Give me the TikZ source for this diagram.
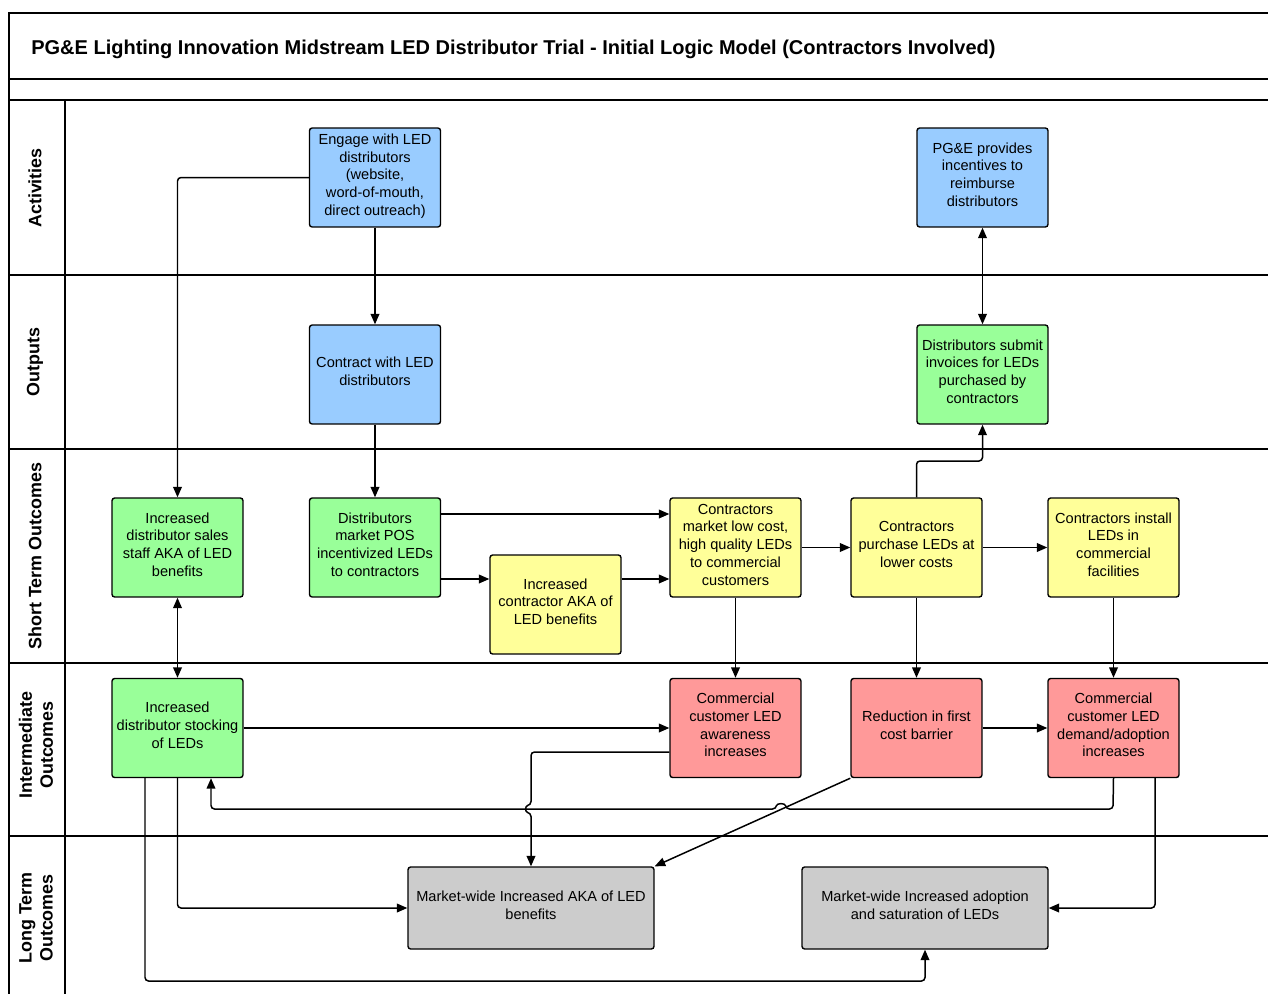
\documentclass[tikz,border=0pt]{standalone}
\usepackage{fontspec}
\setmainfont{Liberation Sans}
\usetikzlibrary{arrows.meta}

\definecolor{actblue}{HTML}{99CCFF}
\definecolor{outgreen}{HTML}{99FF99}
\definecolor{styellow}{HTML}{FFFF99}
\definecolor{midred}{HTML}{FF9999}
\definecolor{ltgray}{HTML}{CCCCCC}

\tikzset{
  box/.style={draw, line width=0.8pt, rounded corners=1.5pt, minimum width=2.62cm,
    minimum height=1.98cm, align=center, inner sep=1pt, text depth=3.4pt,
    font=\fontsize{8.3}{10.1}\selectfont},
  widebox/.style={box, fill=ltgray, minimum width=4.92cm, minimum height=1.64cm},
  conn/.style={line width=0.85pt, rounded corners=2pt, -{Triangle[length=6pt,width=5pt]}},
  dconn/.style={conn, {Triangle[length=6pt,width=5pt]}-{Triangle[length=6pt,width=5pt]}},
  lane/.style={rotate=90, align=center, font=\bfseries\fontsize{10.2}{11.9}\selectfont},
  frame/.style={line width=0.8pt}
}

\begin{document}
\begin{tikzpicture}[x=0.02cm, y=-0.02cm]
  \useasboundingbox (0,0) rectangle (1268,994);

  % swimlane frame
  \draw[frame] (1268,13) -- (9,13) -- (9,994);
  \draw[frame] (9,79) -- (1268,79);
  \draw[line width=1.2pt] (9,100) -- (1268,100);
  \draw[frame] (9,275) -- (1268,275);
  \draw[frame] (9,449) -- (1268,449);
  \draw[frame] (9,663) -- (1268,663);
  \draw[frame] (9,836) -- (1268,836);
  \draw[frame] (65,100) -- (65,994);

  \node[anchor=west, inner sep=0pt, font=\bfseries\fontsize{11.38}{13}\selectfont] (title) at (31,49.5)
    {PG\&E Lighting Innovation Midstream LED Distributor Trial - Initial Logic Model (Contractors Involved)};

  \node[lane] (lact) at (35,188) {Activities};
  \node[lane] (lout) at (35,362) {Outputs};
  \node[lane] (lshort) at (35,556) {Short Term Outcomes};
  \node[lane] (linter) at (36,745) {Intermediate\\Outcomes};
  \node[lane] (llong) at (36,918) {Long Term\\Outcomes};

  % activities
  \node[box, fill=actblue] (engage) at (375,177.5)
    {Engage with LED\\distributors\\(website,\\word-of-mouth,\\direct outreach)};
  \node[box, fill=actblue] (incent) at (982.5,177.5)
    {PG\&E provides\\incentives to\\reimburse\\distributors};

  % outputs
  \node[box, fill=actblue] (contract) at (375,374.5) {Contract with LED\\distributors};
  \node[box, fill=outgreen] (invoices) at (982.5,374.5)
    {Distributors submit\\invoices for LEDs\\purchased by\\contractors};

  % short term
  \node[box, fill=outgreen] (salesaka) at (177.5,547.5)
    {Increased\\distributor sales\\staff AKA of LED\\benefits};
  \node[box, fill=outgreen] (marketpos) at (375,547.5)
    {Distributors\\market POS\\incentivized LEDs\\to contractors};
  \node[box, fill=styellow] (contraka) at (555.5,604.5)
    {Increased\\contractor AKA of\\LED benefits};
  \node[box, fill=styellow] (marketled) at (735.5,547.5)
    {Contractors\\market low cost,\\high quality LEDs\\to commercial\\customers};
  \node[box, fill=styellow] (purchase) at (916.5,547.5)
    {Contractors\\purchase LEDs at\\lower costs};
  \node[box, fill=styellow] (install) at (1113.5,547.5)
    {Contractors install\\LEDs in\\commercial\\facilities};

  % intermediate
  \node[box, fill=outgreen] (stocking) at (177.5,728)
    {Increased\\distributor stocking\\of LEDs};
  \node[box, fill=midred] (awareness) at (735.5,728)
    {Commercial\\customer LED\\awareness\\increases};
  \node[box, fill=midred] (costbarrier) at (916.5,728)
    {Reduction in first\\cost barrier};
  \node[box, fill=midred] (demand) at (1113.5,728)
    {Commercial\\customer LED\\demand/adoption\\increases};

  % long term
  \node[widebox] (mwaka) at (531,908) {Market-wide Increased AKA of LED\\benefits};
  \node[widebox] (mwadopt) at (925,908) {Market-wide Increased adoption\\and saturation of LEDs};

  % connectors
  \draw[conn] (engage.west) -| (salesaka.north);
  \draw[conn] (engage) -- (contract);
  \draw[dconn] (incent) -- (invoices);
  \draw[conn] (contract) -- (marketpos);
  \draw[conn] (marketpos.east |- 0,514) -- (marketled.west |- 0,514);
  \draw[conn] (marketpos.east |- 0,579) -- (contraka.west |- 0,579);
  \draw[conn] (contraka.east |- 0,579) -- (marketled.west |- 0,579);
  \draw[conn] (marketled) -- (purchase);
  \draw[conn] (purchase) -- (install);
  \draw[conn] (purchase.north) -- (purchase.north |- 0,461) -| (invoices.south);
  \draw[conn] (marketled) -- (awareness);
  \draw[conn] (purchase) -- (costbarrier);
  \draw[conn] (install) -- (demand);
  \draw[dconn] (salesaka) -- (stocking);
  \draw[conn] (stocking) -- (awareness);
  \draw[conn] (costbarrier) -- (demand);
  \draw[conn] (awareness.west |- 0,752) -- (531,752) -- (531,805)
    .. controls (525,806) and (525,812) .. (531,813) -- (mwaka.north); % hop
  \draw[conn] (demand.south) -- (1113,809) -- (786,809)
    .. controls (785,803) and (777,803) .. (776,809) -- (211,809) -- (stocking.south -| 211,0); % hop
  \draw[conn] (costbarrier.south west) -- (mwaka.north east);
  \draw[conn] (stocking.south) |- (mwaka.west);
  \draw[conn] (stocking.south -| 145,0) -- (145,981) -| (mwadopt.south);
  \draw[conn] (demand.south -| 1155,0) |- (mwadopt.east);
\end{tikzpicture}
\end{document}
